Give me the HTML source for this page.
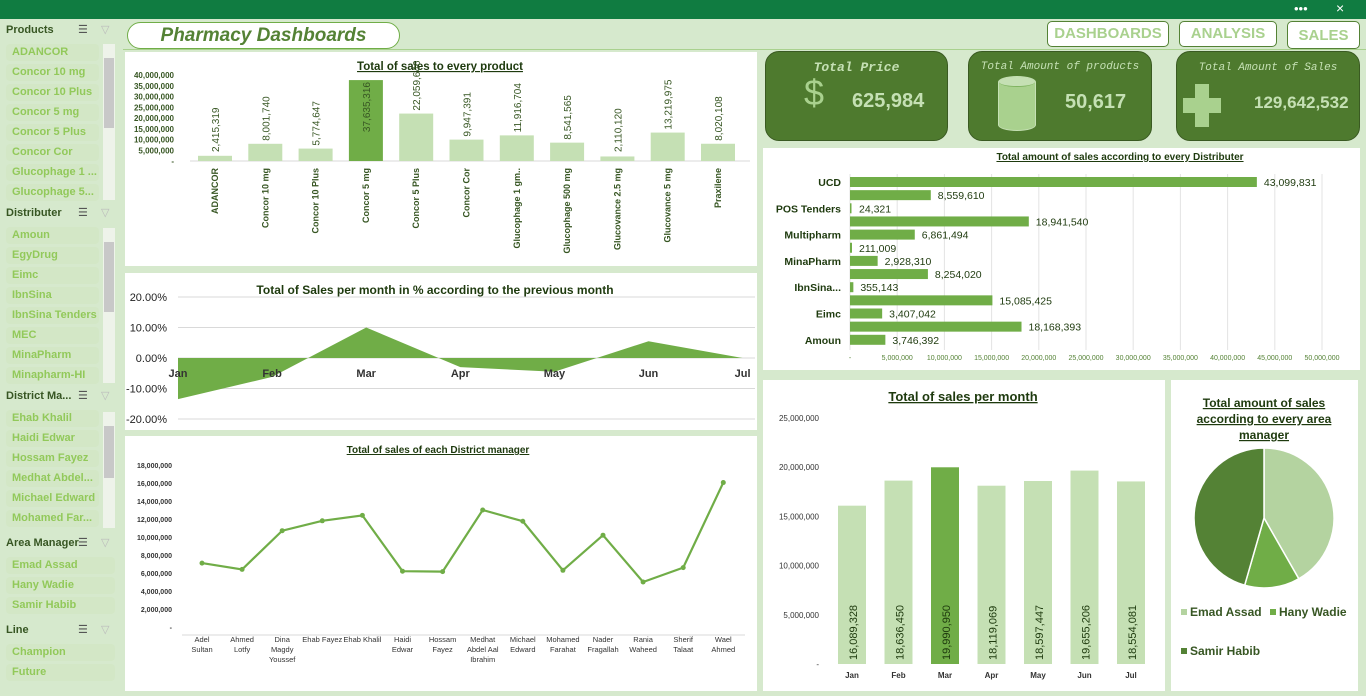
<!DOCTYPE html>
<html><head><meta charset="utf-8">
<style>
*{box-sizing:border-box;margin:0;padding:0}
body{width:1366px;height:691px;overflow:hidden;background:#d6e9cd;font-family:"Liberation Sans",sans-serif;position:relative}
.abs{position:absolute}
.topbar{left:0;top:0;width:1366px;height:19px;background:#107c41}
.panel{position:absolute;background:#fff}
.sh{position:absolute;left:6px;font-size:11px;font-weight:bold;color:#375623}
.si{position:absolute;left:6px;height:17px;background:#d3e7c6;border-radius:4px;font-size:11px;color:#92c95a;font-weight:bold;padding:2px 6px;white-space:nowrap;overflow:hidden}
.sb{position:absolute;left:103px;width:12px;background:#eef3ea}
.btn{position:absolute;background:#fff;border:1px solid #548235;border-radius:5px;color:#a9d18e;font-weight:bold;font-size:15px;text-align:center}
.kpi{position:absolute;background:#4e7a2e;border:1px solid #3a5a22;border-radius:14px;color:#c5e0b4}
.kt{position:absolute;width:100%;text-align:center;font-family:"Liberation Mono",monospace;font-style:italic;font-size:12px}
.kv{position:absolute;font-size:20px;font-weight:bold}
.ttl{font-weight:bold;text-decoration:underline;fill:#1e3a0e}
</style></head><body>
<div class="abs topbar"></div>
<div class="abs" style="left:1294px;top:1px;color:#fff;font-size:13px">•••</div>
<div class="abs" style="left:1336px;top:0px;color:#fff;font-size:14px">×</div>

<div id="slicers"></div>

<div class="abs" style="left:127px;top:22px;width:273px;height:27px;background:#fff;border:1px solid #70ad47;border-radius:14px;font-weight:bold;font-style:italic;font-size:19px;color:#548235;text-align:center;line-height:26px">Pharmacy Dashboards</div>
<div class="abs" style="left:123px;top:49px;width:1243px;height:1px;background:#a9d18e"></div>
<div class="btn" style="left:1047px;top:21px;width:122px;height:26px;line-height:24px">DASHBOARDS</div>
<div class="btn" style="left:1179px;top:21px;width:98px;height:26px;line-height:24px">ANALYSIS</div>
<div class="btn" style="left:1287px;top:21px;width:73px;height:28px;line-height:28px">SALES</div>

<div class="kpi" style="left:765px;top:51px;width:183px;height:90px">
<div class="kt" style="top:8px;font-size:13px;font-weight:bold">Total Price</div>
<div class="abs" style="left:38px;top:20px;font-size:36px;color:#a9d18e">$</div>
<div class="kv" style="left:86px;top:38px">625,984</div></div>
<div class="kpi" style="left:968px;top:51px;width:184px;height:90px">
<div class="kt" style="top:9px;font-size:11px">Total Amount of products</div>
<div class="abs" style="left:29px;top:24px;width:38px;height:55px;background:#a9d18e;border-radius:19px/6px;border:1px solid #c5e0b4"><div style="height:10px;border-radius:50%;background:#c5e0b4;border-bottom:1px solid #7fb360"></div></div>
<div class="kv" style="left:96px;top:39px">50,617</div></div>
<div class="kpi" style="left:1176px;top:51px;width:184px;height:90px">
<div class="kt" style="top:10px;font-size:11px">Total Amount of Sales</div>
<div class="abs" style="left:6px;top:46px;width:38px;height:15px;background:#a9d18e"></div>
<div class="abs" style="left:18px;top:32px;width:14px;height:43px;background:#a9d18e"></div>
<div class="kv" style="left:77px;top:41px;font-size:17px">129,642,532</div></div>

<div class="panel" style="left:125px;top:52px;width:632px;height:214px"><svg id="pc" width="632" height="214"></svg></div>
<div class="panel" style="left:125px;top:273px;width:632px;height:157px"><svg id="mp" width="632" height="157"></svg></div>
<div class="panel" style="left:125px;top:436px;width:632px;height:255px"><svg id="dm" width="632" height="255"></svg></div>
<div class="panel" style="left:763px;top:148px;width:597px;height:222px"><svg id="ds" width="597" height="222"></svg></div>
<div class="panel" style="left:763px;top:380px;width:402px;height:311px"><svg id="ms" width="402" height="311"></svg></div>
<div class="panel" style="left:1171px;top:380px;width:187px;height:311px"><svg id="pie" width="187" height="311"></svg></div>

<script>
const productCats=["ADANCOR","Concor 10 mg","Concor 10 Plus","Concor 5 mg","Concor 5 Plus","Concor Cor","Glucophage 1 gm..","Glucophage 500 mg","Glucovance 2.5 mg","Glucovance 5 mg","Praxilene"];
const productVals=[2415319,8001740,5774647,37635316,22059646,9947391,11916704,8541565,2110120,13219975,8020108];
const productTicks=[0,5e6,10e6,15e6,20e6,25e6,30e6,35e6,40e6];
const pctMonths=["Jan","Feb","Mar","Apr","May","Jun","Jul"];
const pctVals=[-13.5,-6.2,10,-3,-4.5,5.5,0];
const pctTicks=[20,10,0,-10,-20];
const dmNames=["Adel Sultan","Ahmed Lotfy","Dina Magdy Youssef","Ehab Fayez","Ehab Khalil","Haidi Edwar","Hossam Fayez","Medhat Abdel Aal Ibrahim","Michael Edward","Mohamed Farahat","Nader Fragallah","Rania Waheed","Sherif Talaat","Wael Ahmed"];
const dmVals=[7100000,6400000,10700000,11800000,12400000,6200000,6150000,13000000,11750000,6300000,10200000,5000000,6600000,16050000];
const dmTicks=[0,2e6,4e6,6e6,8e6,10e6,12e6,14e6,16e6,18e6];
const distLabels=["UCD","","POS Tenders","","Multipharm","","MinaPharm","","IbnSina...","","Eimc","","Amoun"];
const distVals=[43099831,8559610,24321,18941540,6861494,211009,2928310,8254020,355143,15085425,3407042,18168393,3746392];
const distTicks=[0,5e6,10e6,15e6,20e6,25e6,30e6,35e6,40e6,45e6,50e6];
const monthNames=["Jan","Feb","Mar","Apr","May","Jun","Jul"];
const monthVals=[16089328,18636450,19990950,18119069,18597447,19655206,18554081];
const monthTicks=[0,5e6,10e6,15e6,20e6,25e6];
const pieNames=["Emad Assad","Hany Wadie","Samir Habib"];
const pieVals=[54100000,16500000,59042532];

const NS="http://www.w3.org/2000/svg";
function mk(svg,tag,a,txt){const e=document.createElementNS(NS,tag);for(const k in a)e.setAttribute(k,a[k]);if(txt!==undefined)e.textContent=txt;svg.appendChild(e);return e;}
const fmt=v=>v===0?"-":v.toLocaleString("en-US");
const G="#375623";

(function(){
 const host=document.getElementById('slicers');
 const groups=[["Products",31,["ADANCOR","Concor 10 mg","Concor 10 Plus","Concor 5 mg","Concor 5 Plus","Concor Cor","Glucophage 1 ...","Glucophage 5..."],true,[44,200]],
 ["Distributer",214,["Amoun","EgyDrug","Eimc","IbnSina","IbnSina Tenders","MEC","MinaPharm","Minapharm-HI"],true,[228,383]],
 ["District Ma...",397,["Ehab Khalil","Haidi Edwar","Hossam Fayez","Medhat Abdel...","Michael Edward","Mohamed Far..."],true,[412,528]],
 ["Area Manager",544,["Emad Assad","Hany Wadie","Samir Habib"],false],
 ["Line",631,["Champion","Future"],false]];
 groups.forEach(g=>{
  const h=document.createElement('div');h.className='sh';h.style.top=(g[1]-7)+'px';h.textContent=g[0];
  
  
  host.appendChild(h);
  const ic=document.createElement('div');ic.className='abs';ic.style.cssText='left:78px;top:'+(g[1]-8)+'px;font-size:11px;color:#555';ic.textContent='☰';
  
  
  host.appendChild(ic);
  const fc=document.createElement('div');fc.className='abs';fc.style.cssText='left:101px;top:'+(g[1]-8)+'px;font-size:11px;color:#bbb';fc.textContent='▽';
  
  
  host.appendChild(fc);
  g[2].forEach((t,i)=>{
   const d=document.createElement('div');d.className='si';d.style.top=(g[1]+13+i*20)+'px';d.style.width=(g[3]?93:109)+'px';d.textContent=t;
   
   
   host.appendChild(d);
  });
  if(g[3]){const s=document.createElement('div');s.className='sb';s.style.top=g[4][0]+'px';s.style.height=(g[4][1]-g[4][0])+'px';
   s.innerHTML='<div style="position:absolute;left:1px;top:14px;width:10px;height:'+((g[4][1]-g[4][0])*0.45)+'px;background:#c8c8c8"></div>';
   
   
   host.appendChild(s);}
 });
})();

(function(){
 const s=document.getElementById('pc');const y0=109,yTop=23,max=40e6;
 const ys=v=>y0-(v/max)*(y0-yTop);const xs=i=>90+i*50.3;
 let t=mk(s,'text',{x:315,y:18,'text-anchor':'middle','font-size':11.5,class:'ttl'},'Total of sales to every product');
 
 productTicks.forEach(v=>{const e=mk(s,'text',{x:49,y:ys(v)+3,'text-anchor':'end','font-size':8,'font-weight':'bold',fill:G},fmt(v));});
 mk(s,'line',{x1:65,x2:625,y1:y0,y2:y0,stroke:'#d9d9d9'});
 productVals.forEach((v,i)=>{const x=xs(i);const top=ys(v);
  const b=mk(s,'rect',{x:x-17,y:top,width:34,height:y0-top,fill:i==3?'#70ad47':'#c5e0b4'});
  
  const ly=Math.min(top,y0-6)-3;
  const l=mk(s,'text',{transform:`translate(${x+4},${i==3?top+52:ly}) rotate(-90)`,'font-size':10,fill:G},fmt(v));
  
  const c=mk(s,'text',{transform:`translate(${x+3},${y0+7}) rotate(-90)`,'text-anchor':'end','font-size':9,'font-weight':'bold',fill:G},productCats[i]);
  
 });
})();

(function(){
 const s=document.getElementById('mp');const yz=85,k=3.05;const ys=v=>yz-v*k;const xs=i=>53+i*94.1;
 const t=mk(s,'text',{x:310,y:21,'text-anchor':'middle','font-size':12,'font-weight':'bold',fill:'#1e3a0e'},'Total of Sales per month in % according to the previous month');
 
 pctTicks.forEach(v=>{mk(s,'line',{x1:53,x2:630,y1:ys(v),y2:ys(v),stroke:'#d9d9d9'});
  const e=mk(s,'text',{x:42,y:ys(v)+4,'text-anchor':'end','font-size':11,fill:'#222'},v.toFixed(2)+'%');});
 let p='M'+xs(0)+','+yz;pctVals.forEach((v,i)=>p+=' L'+xs(i)+','+ys(v));p+=' L'+xs(pctVals.length-1)+','+yz+'Z';
 const a=mk(s,'path',{d:p,fill:'#70ad47'});
 pctMonths.forEach((m,i)=>{const e=mk(s,'text',{x:xs(i),y:yz+19,'text-anchor':'middle','font-size':11,'font-weight':'bold',fill:'#333'},m);});
})();

(function(){
 const s=document.getElementById('dm');const y0=191,yT=29,max=18e6;const ys=v=>y0-v/max*(y0-yT);const xs=i=>77+i*40.1;
 const t=mk(s,'text',{x:313,y:17,'text-anchor':'middle','font-size':10,class:'ttl'},'Total of sales of each District manager');
 
 dmTicks.forEach(v=>{const e=mk(s,'text',{x:47,y:ys(v)+3,'text-anchor':'end','font-size':7,'font-weight':'bold',fill:'#333'},fmt(v));});
 mk(s,'line',{x1:57,x2:620,y1:y0+8,y2:y0+8,stroke:'#d9d9d9'});
 const pts=dmVals.map((v,i)=>xs(i)+','+ys(v)).join(' ');
 const l=mk(s,'polyline',{points:pts,fill:'none',stroke:'#70ad47','stroke-width':2.2});
 dmVals.forEach((v,i)=>{const c=mk(s,'circle',{cx:xs(i),cy:ys(v),r:2.5,fill:'#70ad47'});
  const words=dmNames[i].split(' ');let lines=[];
  if(words.length==2&&(dmNames[i]=="Ehab Fayez"||dmNames[i]=="Ehab Khalil"))lines=[dmNames[i]];
  else if(words.length==4)lines=[words[0],words[1]+' '+words[2],words[3]];else lines=words;
  lines.forEach((w,j)=>{const e=mk(s,'text',{x:xs(i),y:y0+15+j*10,'text-anchor':'middle','font-size':7.5,fill:'#333'},w);});
 });
})();

(function(){
 const s=document.getElementById('ds');const x0=87,x1=559,max=50e6;const xs=v=>x0+v/max*(x1-x0);const ys=i=>34+i*13.15;
 const t=mk(s,'text',{x:357,y:12,'text-anchor':'middle','font-size':10,class:'ttl'},'Total amount of sales according to every Distributer');
 
 distTicks.forEach(v=>{mk(s,'line',{x1:xs(v),x2:xs(v),y1:26,y2:202,stroke:'#e3e3e3'});
  const e=mk(s,'text',{x:xs(v),y:212,'text-anchor':'middle','font-size':7,fill:'#548235'},fmt(v));});
 distVals.forEach((v,i)=>{const y=ys(i);
  const b=mk(s,'rect',{x:x0,y:y-5,width:Math.max(1.5,xs(v)-x0),height:10,fill:'#70ad47'});
  const l=mk(s,'text',{x:Math.max(xs(v),x0+2)+7,y:y+4,'font-size':10.5,fill:'#1e3a0e'},fmt(v));
  if(distLabels[i]){const c=mk(s,'text',{x:78,y:y+4,'text-anchor':'end','font-size':10.5,'font-weight':'bold',fill:'#1e3a0e'},distLabels[i]);}
 });
})();

(function(){
 const s=document.getElementById('ms');const y0=284,yT=38,max=25e6;const ys=v=>y0-v/max*(y0-yT);const xs=i=>89+i*46.5;
 const t=mk(s,'text',{x:200,y:21,'text-anchor':'middle','font-size':13,class:'ttl'},'Total of sales per month');
 
 monthTicks.forEach(v=>{const e=mk(s,'text',{x:56,y:ys(v)+3,'text-anchor':'end','font-size':8,fill:'#333'},fmt(v));});
 monthVals.forEach((v,i)=>{const x=xs(i),top=ys(v);
  const b=mk(s,'rect',{x:x-14,y:top,width:28,height:y0-top,fill:i==2?'#70ad47':'#c5e0b4'});
  const l=mk(s,'text',{transform:`translate(${x+5},${y0-4}) rotate(-90)`,'font-size':11,fill:'#1e3a0e'},fmt(v));
  const c=mk(s,'text',{x:x,y:y0+14,'text-anchor':'middle','font-size':8,'font-weight':'bold',fill:'#333'},monthNames[i]);
 });
})();

(function(){
 const s=document.getElementById('pie');const cx=93,cy=138,r=70;const cols=['#b4d3a0','#70ad47','#548235'];
 ['Total amount of sales','according to every area','manager'].forEach((w,j)=>{const e=mk(s,'text',{x:93,y:27+j*16,'text-anchor':'middle','font-size':12,class:'ttl'},w);});
 const tot=pieVals.reduce((a,b)=>a+b,0);let a0=-Math.PI/2;
 pieVals.forEach((v,i)=>{const a1=a0+v/tot*2*Math.PI;
  const p=`M${cx},${cy} L${cx+r*Math.cos(a0)},${cy+r*Math.sin(a0)} A${r},${r} 0 ${a1-a0>Math.PI?1:0} 1 ${cx+r*Math.cos(a1)},${cy+r*Math.sin(a1)} Z`;
  const e=mk(s,'path',{d:p,fill:cols[i],stroke:'#fff','stroke-width':1.5});
  a0=a1;});
 const lp=[[10,233],[99,233],[10,272]];
 pieNames.forEach((n,i)=>{mk(s,'rect',{x:lp[i][0],y:lp[i][1]-4,width:6,height:6,fill:cols[i]});
  const e=mk(s,'text',{x:lp[i][0]+9,y:lp[i][1]+3,'font-size':12,'font-weight':'bold',fill:'#375623'},n);});
})();
</script>
</body></html>
